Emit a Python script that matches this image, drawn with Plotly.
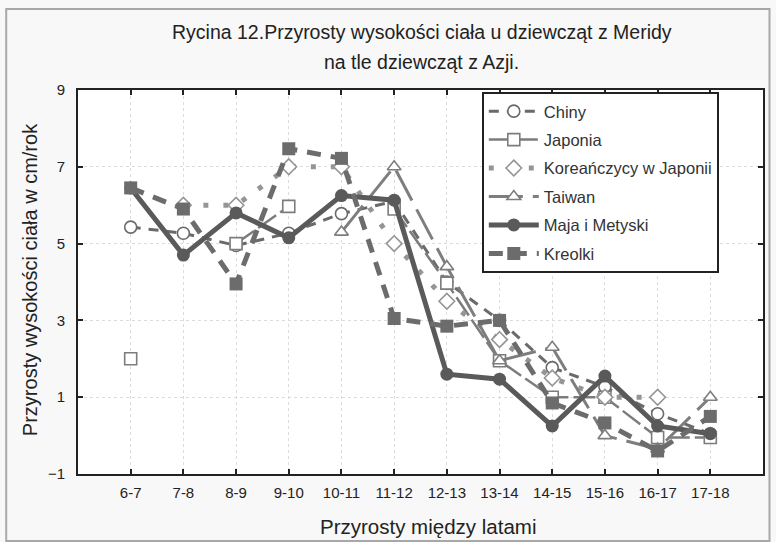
import plotly.graph_objects as go

categories = ["6-7", "7-8", "8-9", "9-10", "10-11", "11-12", "12-13", "13-14",
              "14-15", "15-16", "16-17", "17-18"]

chiny = [5.43, 5.27, 4.95, 5.27, 5.78, 6.1, 4.0, 3.0, 1.77, 1.27, 0.57, 0.05]
japonia = [2.0, None, 5.0, 5.97, None, 5.9, 3.97, 1.95, 1.0, 1.0, -0.05, -0.05]
koreanczycy = [None, 6.0, 6.0, 7.0, 7.0, 5.0, 3.5, 2.5, 1.5, 1.0, 1.0, None]
taiwan = [None, None, None, None, 5.3, 7.0, 4.4, 1.95, 2.3, 0.0, -0.35, 1.0]
maja = [6.45, 4.7, 5.8, 5.15, 6.25, 6.13, 1.6, 1.47, 0.25, 1.55, 0.25, 0.05]
kreolki = [6.45, 5.9, 3.95, 7.47, 7.22, 3.05, 2.85, 3.0, 0.85, 0.33, -0.4, 0.5]

y_ticks = [-1, 1, 3, 5, 7, 9]

series = [
    dict(name="Chiny", y=chiny, color="#6a6a6a", width=3, dash="10px,8px",
         symbol="circle", size=12, fill="white", lw=1.6),
    dict(name="Japonia", y=japonia, color="#7c7c7c", width=2.5, dash="22px,5px",
         symbol="square", size=12, fill="white", lw=1.6),
    dict(name="Koreańczycy w Japonii", y=koreanczycy, color="#959595", width=5,
         dash="5px,15px", symbol="diamond", size=12, fill="white", lw=1.6),
    dict(name="Taiwan", y=taiwan, color="#7e7e7e", width=3, dash="34px,10px",
         symbol="triangle-up", size=12, fill="white", lw=1.6),
    dict(name="Maja i Metyski", y=maja, color="#5a5a5a", width=5, dash="solid",
         symbol="circle", size=13, fill="#5a5a5a", lw=0),
    dict(name="Kreolki", y=kreolki, color="#6c6c6c", width=5, dash="14px,10px",
         symbol="square", size=13, fill="#6c6c6c", lw=0),
]

fig = go.Figure()
for i, s in enumerate(series):
    fig.add_trace(go.Scatter(
        x=categories, y=s["y"], name=s["name"], mode="lines+markers",
        legendgroup=f"g{i}",
        line=dict(color=s["color"], width=s["width"], dash=s["dash"]),
        marker=dict(symbol=s["symbol"], size=s["size"], color=s["fill"],
                    line=dict(color=s["color"], width=s["lw"])),
    ))

axis_font = dict(family="Liberation Sans, Arial, sans-serif", size=15, color="#222")

fig.update_layout(
    width=776, height=542,
    margin=dict(l=78, r=11, t=90, b=68),
    paper_bgcolor="#f8f8f8",
    plot_bgcolor="white",
    showlegend=True,
    legend=dict(
        x=0.5895, y=0.995, xanchor="left", yanchor="top",
        bgcolor="white", bordercolor="#222", borderwidth=2,
        font=dict(family="Liberation Sans, Arial, sans-serif", size=16.5, color="#333"),
        traceorder="grouped", tracegroupgap=4, itemwidth=50,
    ),
    xaxis=dict(
        type="category", range=[-1, 12],
        showline=True, linecolor="#222", linewidth=2, mirror="ticks",
        ticks="inside", ticklen=5, tickcolor="#222", tickwidth=1.5,
        showgrid=True, gridcolor="#dcdcdc", griddash="dot", gridwidth=1,
        tickfont=axis_font, zeroline=False, ticklabelstandoff=4,
    ),
    yaxis=dict(
        range=[-1, 9], tickvals=y_ticks,
        showline=True, linecolor="#222", linewidth=2, mirror="ticks",
        ticks="inside", ticklen=5, tickcolor="#222", tickwidth=1.5,
        showgrid=True, gridcolor="#dcdcdc", griddash="dot", gridwidth=1,
        tickfont=axis_font, zeroline=False, ticklabelstandoff=8,
    ),
    shapes=[dict(type="rect", xref="paper", yref="paper",
                 x0=-0.1048, x1=1.0095, y0=-0.1745, y1=1.2109,
                 line=dict(color="#a8a8a8", width=2), layer="below")],
)

title_font = dict(family="Liberation Sans, Arial, sans-serif", size=19.5, color="#222")
fig.add_annotation(text="Rycina 12.Przyrosty wysokości ciała u dziewcząt z Meridy",
                   xref="paper", yref="paper", x=0.502, y=1.151,
                   xanchor="center", yanchor="middle", showarrow=False, font=title_font)
fig.add_annotation(text="na tle dziewcząt z Azji.",
                   xref="paper", yref="paper", x=0.502, y=1.073,
                   xanchor="center", yanchor="middle", showarrow=False, font=title_font)
fig.add_annotation(text="Przyrosty między latami",
                   xref="paper", yref="paper", x=0.511, y=-0.138,
                   xanchor="center", yanchor="middle", showarrow=False,
                   font=dict(family="Liberation Sans, Arial, sans-serif", size=20.5, color="#222"))
fig.add_annotation(text="Przyrosty wysokości ciała w cm/rok",
                   xref="paper", yref="paper", x=-0.07, y=0.505, textangle=-90,
                   xanchor="center", yanchor="middle", showarrow=False,
                   font=dict(family="Liberation Sans, Arial, sans-serif", size=20, color="#222"))

fig.write_html("out.html", config={"displayModeBar": False},
               post_script="document.body.style.margin='0';")
